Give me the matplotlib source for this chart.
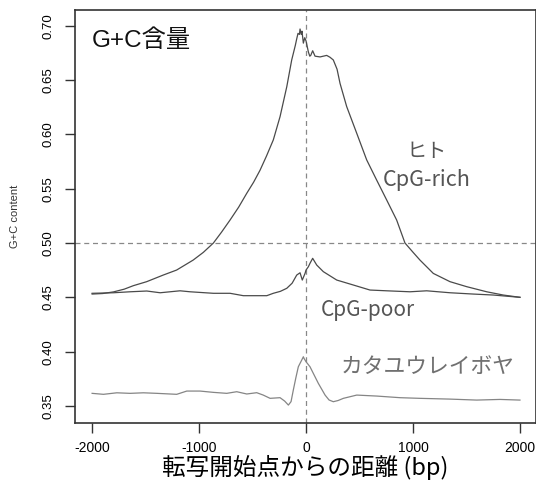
import matplotlib
matplotlib.use("Agg")
import matplotlib.pyplot as plt

# ---- data ----
rich_x = [-2000, -1900, -1800, -1700, -1615, -1490, -1335, -1210, -1055, -960, -866, -790,
          -710, -630, -554, -490, -430, -370, -306, -243, -180, -134, -100, -87, -75, -62,
          -56, -45, -38, -25, -12, 0, 22, 35, 44, 62, 84, 131, 193, 224, 255, 290, 318,
          380, 474, 567, 660, 754, 847, 925, 1000, 1065, 1190, 1346, 1502, 1689, 1844, 2000]
rich_y = [0.453, 0.4535, 0.455, 0.4575, 0.4607, 0.4644, 0.4705, 0.4751, 0.4843, 0.4914,
          0.500, 0.5100, 0.5212, 0.5330, 0.5458, 0.5560, 0.567, 0.580, 0.5949, 0.6163,
          0.6439, 0.6685, 0.682, 0.688, 0.693, 0.692, 0.697, 0.692, 0.695, 0.684, 0.689,
          0.686, 0.6758, 0.672, 0.6727, 0.677, 0.672, 0.6713, 0.6727, 0.671, 0.6685,
          0.660, 0.6469, 0.6256, 0.6010, 0.5765, 0.558, 0.5396, 0.5212, 0.500, 0.4915,
          0.4843, 0.472, 0.4644, 0.4598, 0.4551, 0.4521, 0.450]

poor_x = [-2000, -1800, -1645, -1489, -1364, -1178, -1084, -866, -710, -586, -367, -306,
          -240, -180, -130, -87, -56, -35, -9, 0, 22, 37, 62, 100, 162, 287, 443, 598, 754,
          972, 1128, 1346, 1564, 1751, 2000]
poor_y = [0.4537, 0.4542, 0.4551, 0.4558, 0.4542, 0.456, 0.4551, 0.4537, 0.4537, 0.4515,
          0.4515, 0.4537, 0.4555, 0.4583, 0.4630, 0.4705, 0.4726, 0.4659, 0.4721, 0.4751,
          0.4782, 0.4813, 0.4859, 0.4797, 0.4736, 0.4659, 0.4613, 0.4567, 0.456, 0.4551,
          0.456, 0.4542, 0.453, 0.4521, 0.450]

ciona_x = [-2000, -1894, -1769, -1645, -1520, -1395, -1209, -1115, -991, -866, -741, -648,
           -554, -461, -400, -336, -243, -200, -165, -140, -119, -95, -72, -40, -25, -19, 0,
           37, 68, 115, 178, 215, 255, 300, 349, 474, 661, 879, 1065, 1346, 1595, 1813, 2000]
ciona_y = [0.3616, 0.3607, 0.3621, 0.3616, 0.3621, 0.3616, 0.3607, 0.3637, 0.3637, 0.3625,
           0.3616, 0.3631, 0.361, 0.3622, 0.3600, 0.357, 0.3576, 0.3545, 0.3508, 0.3540,
           0.3646, 0.3760, 0.3861, 0.3923, 0.3953, 0.3938, 0.3907, 0.3861, 0.380, 0.3708,
           0.360, 0.3555, 0.3539, 0.3550, 0.357, 0.360, 0.3591, 0.3576, 0.357, 0.3563,
           0.3554, 0.356, 0.3554]

x_ticks = [-2000, -1000, 0, 1000, 2000]
y_ticks = [0.35, 0.40, 0.45, 0.50, 0.55, 0.60, 0.65, 0.70]

latin_cjk = ['Liberation Sans', 'Noto Sans CJK JP']
cjk = ['Noto Sans CJK JP', 'DejaVu Sans']

fig = plt.figure(figsize=(5.36, 4.95), dpi=100)
ax = fig.add_axes([75/536, 1 - 423/495, 1 - 75/536, (423 - 10)/495])

ax.axhline(0.50, color='#888888', lw=0.9, ls=(0, (4, 3)), zorder=1)
ax.axvline(0, color='#888888', lw=0.9, ls=(0, (4, 3)), zorder=1)

ax.plot(rich_x, rich_y, color='#4a4a4a', lw=0.9, zorder=3)
ax.plot(poor_x, poor_y, color='#4a4a4a', lw=0.9, zorder=3)
ax.plot(ciona_x, ciona_y, color='#858585', lw=0.9, zorder=3)

ax.set_xlim(-2160, 2150)
ax.set_ylim(0.3343, 0.7145)
ax.set_xticks(x_ticks)
ax.set_xticklabels([str(v) for v in x_ticks], fontfamily='Liberation Sans', fontsize=10)
ax.set_yticks(y_ticks)
ax.set_yticklabels([f"{v:.2f}" for v in y_ticks], fontfamily='Liberation Sans', fontsize=9.5,
                   rotation=90, va='center')
ax.tick_params(axis='both', direction='out', length=7, width=1, color='#333333')
ax.tick_params(axis='x', pad=6)
ax.tick_params(axis='y', pad=8)

for s in ['left', 'bottom', 'top', 'right']:
    ax.spines[s].set_linewidth(1.2)
    ax.spines[s].set_color('#333333')

ax.set_ylabel('G+C content', fontfamily='Liberation Sans', fontsize=8, labelpad=16, color='#333333')
ax.set_xlabel('転写開始点からの距離 (bp)', fontfamily=cjk, fontsize=17, labelpad=0)

ax.text(0.036, 0.925, 'G+C含量', transform=ax.transAxes, fontfamily=latin_cjk, fontsize=17.5,
        ha='left', va='center', color='#111111')
ax.text(1131, 0.5838, 'ヒト', fontfamily=cjk, fontsize=14.5, ha='center', va='center', color='#555555')
ax.text(1131, 0.5580, 'CpG-rich', fontfamily=cjk, fontsize=15.5, ha='center', va='center', color='#555555')
ax.text(579, 0.4383, 'CpG-poor', fontfamily=cjk, fontsize=15, ha='center', va='center', color='#555555')
ax.text(1140, 0.3858, 'カタユウレイボヤ', fontfamily=cjk, fontsize=15.7, ha='center', va='center', color='#707070')

fig.savefig('out.png', dpi=100)
